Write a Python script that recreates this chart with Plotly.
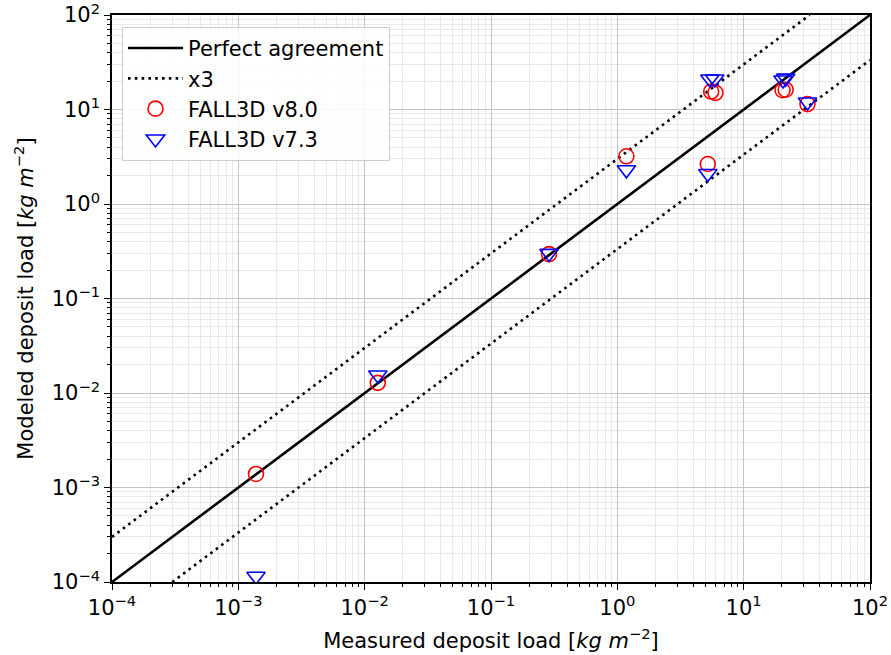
import numpy as np
import plotly.graph_objects as go

# Data
meas_v80 = [1.38e-3, 0.0127, 0.288, 1.18, 5.2, 5.53, 5.98, 20.3, 21.5, 32.0]
mod_v80 = [1.39e-3, 0.0128, 0.295, 3.2, 2.65, 15.5, 15.0, 16.0, 16.2, 11.4]

meas_v73 = [1.38e-3, 0.0127, 0.288, 1.18, 5.2, 5.4, 5.9, 20.5, 21.5, 32.0]
mod_v73 = [1.15e-4, 0.0155, 0.30, 2.3, 2.1, 21.0, 21.0, 20.5, 21.5, 12.0]

ref_x = [1e-4, 1e2]
factor = 3.0

tick_vals = [1e-4, 1e-3, 1e-2, 1e-1, 1e0, 1e1, 1e2]
tick_text = ["10<sup>\u22124</sup>", "10<sup>\u22123</sup>", "10<sup>\u22122</sup>",
             "10<sup>\u22121</sup>", "10<sup>0</sup>", "10<sup>1</sup>", "10<sup>2</sup>"]

FONT = "DejaVu Sans"
FS = 21

fig = go.Figure()
fig.add_trace(go.Scatter(x=ref_x, y=ref_x, mode="lines", name="Perfect agreement",
                         line=dict(color="black", width=2.6)))
fig.add_trace(go.Scatter(x=[ref_x[0], ref_x[1] / factor], y=[ref_x[0] * factor, ref_x[1]],
                         mode="lines", name="x3",
                         line=dict(color="black", width=2.6, dash="2.6px,4.2px")))
fig.add_trace(go.Scatter(x=[ref_x[0] * factor, ref_x[1]], y=[ref_x[0], ref_x[1] / factor],
                         mode="lines", name="x3", showlegend=False,
                         line=dict(color="black", width=2.6, dash="2.6px,4.2px")))
fig.add_trace(go.Scatter(x=meas_v80, y=mod_v80, mode="markers", name="FALL3D v8.0",
                         marker=dict(symbol="circle-open", size=15, color="red",
                                     line=dict(width=1.6, color="red"))))
fig.add_trace(go.Scatter(x=meas_v73, y=mod_v73, mode="markers", name="FALL3D v7.3",
                         marker=dict(symbol="triangle-down-open", size=16, color="blue",
                                     line=dict(width=1.6, color="blue"))))

axis_common = dict(
    type="log", range=[-4, 2], automargin=False,
    tickmode="array", tickvals=tick_vals, ticktext=tick_text,
    ticklabeloverflow="allow",
    showline=True, linecolor="black", linewidth=1.5, mirror=True,
    ticks="outside", ticklen=6, tickwidth=1.2, tickcolor="black",
    showgrid=True, gridcolor="#c4c4c4", gridwidth=1,
    zeroline=False,
    tickfont=dict(family=FONT, size=FS, color="black"),
    minor=dict(dtick="D1", ticks="outside", ticklen=3.5, tickwidth=0.9, tickcolor="black",
               showgrid=True, gridcolor="#e8e8e8", gridwidth=1),
)

fig.update_xaxes(**axis_common,
                 title=dict(text="Measured deposit load [<i>kg m</i><sup>\u22122</sup>]",
                            font=dict(family=FONT, size=FS, color="black"), standoff=14))
fig.update_yaxes(**axis_common,
                 title=dict(text="Modeled deposit load [<i>kg m</i><sup>\u22122</sup>]",
                            font=dict(family=FONT, size=FS, color="black"), standoff=12))

fig.update_layout(
    width=891, height=655,
    margin=dict(l=112, r=21, t=15, b=73),
    plot_bgcolor="white", paper_bgcolor="white",
    font=dict(family=FONT, size=FS, color="black"),
    legend=dict(x=0.0132, y=0.979, xanchor="left", yanchor="top",
                bgcolor="rgba(255,255,255,0.85)", bordercolor="#cccccc", borderwidth=1,
                font=dict(family=FONT, size=FS, color="black"),
                tracegroupgap=0, itemwidth=55),
)

fig.write_html("out.html", config={"displayModeBar": False},
               post_script="document.body.style.margin='0px';")
